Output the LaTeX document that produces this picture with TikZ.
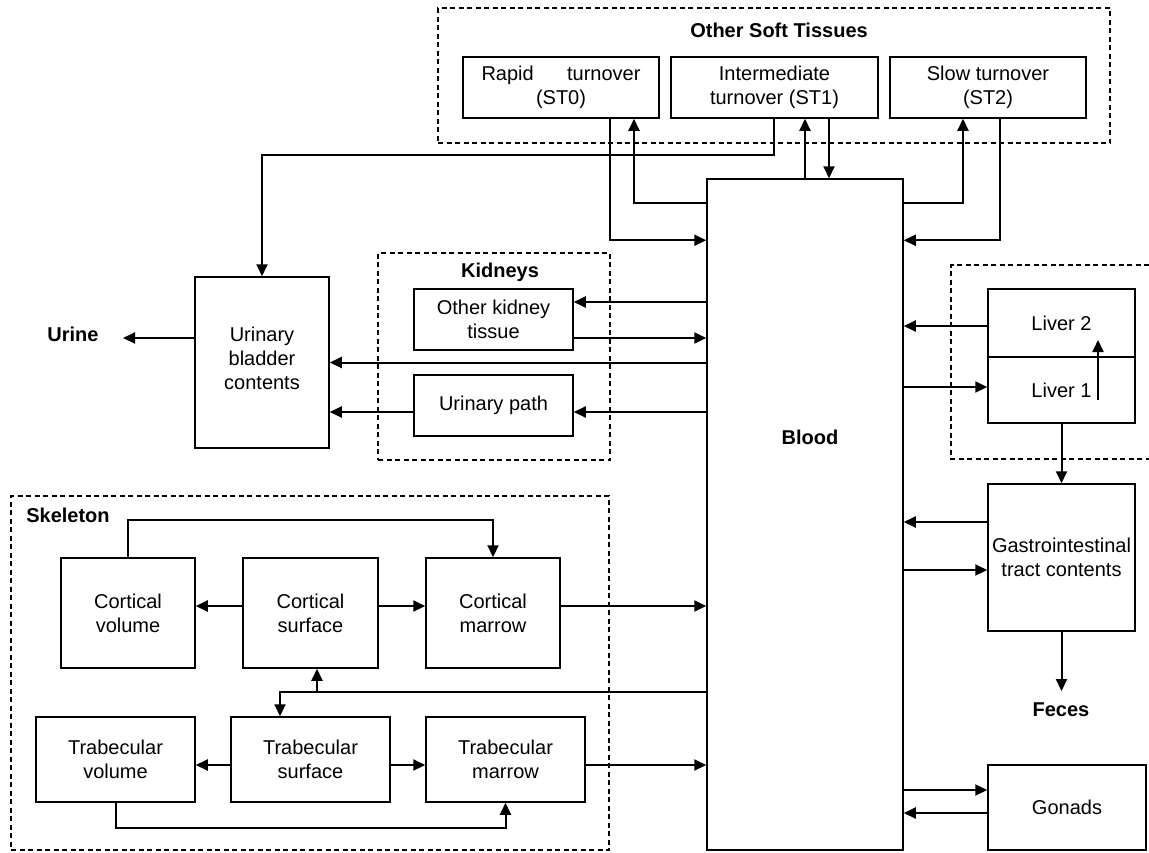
\documentclass[tikz,border=0pt]{standalone}
\usepackage{fontspec}
\setmainfont{Liberation Sans}
\usetikzlibrary{arrows.meta}
\begin{document}
\begin{tikzpicture}[x=1pt,y=-1pt,
  box/.style={draw, line width=1.5pt, inner sep=1pt, align=center, font=\fontsize{20}{24}\selectfont},
  txt/.style={inner sep=0pt, align=center, font=\fontsize{20}{24}\selectfont},
  grp/.style={draw, dash pattern=on 5pt off 3.5pt, line width=1.2pt, inner sep=0pt},
  lbl/.style={font=\fontsize{20}{24}\selectfont\bfseries, inner sep=0pt},
  conn/.style={line width=2pt, -{Triangle[length=12pt,width=11pt]}},
  plain/.style={line width=2pt}]
\fill[white] (0,0) rectangle (1149,852);
\useasboundingbox (0,0) rectangle (1149,852);

% groups
\node[grp, minimum width=672pt, minimum height=135pt] (ost) at (774,75.5) {};
\node[lbl] (osttitle) at (779,30) {Other Soft Tissues};
\node[grp, minimum width=232pt, minimum height=207pt] (kid) at (494,356.5) {};
\node[lbl] (kidtitle) at (500,272) {Kidneys};
\node[grp, minimum width=598pt, minimum height=354pt] (skel) at (310,673) {};
\node[lbl] (skeltitle) at (68,515) {Skeleton};
\draw[dash pattern=on 5pt off 3.5pt, line width=1.2pt] (1149,265) -- (951,265) -- (951,459) -- (1149,459);

% boxes
\node[box, minimum width=196pt, minimum height=61pt] (st0) at (561,87.5) {\makebox[159pt][s]{Rapid turnover}\\(ST0)};
\node[box, minimum width=207pt, minimum height=61pt] (st1) at (774.5,87.5) {Intermediate\\turnover (ST1)};
\node[box, minimum width=196pt, minimum height=61pt] (st2) at (988,87.5) {Slow turnover\\(ST2)};
\node[box, minimum width=196pt, minimum height=671pt] (blood) at (805,514.5) {};
\node[lbl] (bloodtxt) at (810,437) {Blood};
\node[box, minimum width=134pt, minimum height=171pt] (bladder) at (262,362.5) {};
\node[txt] (bladdertxt) at (262,358) {Urinary\\bladder\\contents};
\node[lbl] (urine) at (73,334) {Urine};
\node[box, minimum width=159pt, minimum height=61pt] (okt) at (493.5,319.5) {Other kidney\\tissue};
\node[box, minimum width=159pt, minimum height=61pt] (upath) at (493.5,405.5) {Urinary path};
\node[box, minimum width=147pt, minimum height=68pt] (liver2) at (1061.5,323) {Liver 2};
\node[box, minimum width=147pt, minimum height=66pt] (liver1) at (1061.5,390) {Liver 1};
\node[box, minimum width=147pt, minimum height=147pt] (gi) at (1061.5,557.5) {Gastrointestinal\\tract contents};
\node[lbl] (feces) at (1061,710) {Feces};
\node[box, minimum width=158pt, minimum height=85pt] (gonads) at (1067,807.5) {Gonads};
\node[box, minimum width=134pt, minimum height=110pt] (cv) at (128,613) {Cortical\\volume};
\node[box, minimum width=135pt, minimum height=110pt] (cs) at (310.5,613) {Cortical\\surface};
\node[box, minimum width=134pt, minimum height=110pt] (cm) at (493,613) {Cortical\\marrow};
\node[box, minimum width=159pt, minimum height=85pt] (tv) at (115.5,759.5) {Trabecular\\volume};
\node[box, minimum width=159pt, minimum height=85pt] (ts) at (310.5,759.5) {Trabecular\\surface};
\node[box, minimum width=159pt, minimum height=85pt] (tm) at (505.5,759.5) {Trabecular\\marrow};

% helper coordinates
\coordinate (urineend) at (123,338);
\coordinate (fecesend) at (1061.5,691);
\coordinate (st1down) at ([xshift=54.5pt]st1.south);
\coordinate (oktin) at ([yshift=17.5pt]okt.east);
\coordinate (oktout) at ([yshift=-18.5pt]okt.east);
\coordinate (upin) at ([yshift=-6.5pt]upath.east);
\coordinate (upout) at ([yshift=-6.5pt]upath.west);
\coordinate (blout) at ([yshift=24.5pt]bladder.west);
\coordinate (l2out) at ([yshift=-3pt]liver2.west);
\coordinate (l1in) at ([yshift=3pt]liver1.west);
\coordinate (l1a) at (1098,400);
\coordinate (l2a) at (1098,340);
\coordinate (giout) at ([yshift=35.5pt]gi.west);
\coordinate (giin) at ([yshift=-12.5pt]gi.west);
\coordinate (gonin) at ([yshift=17.5pt]gonads.west);
\coordinate (gonout) at ([yshift=-5.5pt]gonads.west);
\coordinate (cmout) at ([yshift=7pt]cm.east);
\coordinate (csl) at ([yshift=7pt]cs.west);
\coordinate (csr) at ([yshift=7pt]cs.east);
\coordinate (brow) at (0,692);
\coordinate (tsin) at ([xshift=-30.5pt]ts.north);
\coordinate (csin) at ([xshift=6.5pt]cs.south);
\coordinate (tsl) at ([yshift=-5.5pt]ts.west);
\coordinate (tsr) at ([yshift=-5.5pt]ts.east);
\coordinate (tmout) at ([yshift=-5.5pt]tm.east);

% other soft tissues
\draw[conn] ([xshift=49pt]st0.south) |- ([yshift=-62pt]blood.north west);
\draw[conn] ([yshift=-25pt]blood.north west) -| ([xshift=73pt]st0.south);
\draw[conn] ([xshift=-0.5pt]st1.south) -- ++(0,36) -| (bladder.north);
\draw[conn] (blood.north) -- (blood.north |- st1.south);
\draw[conn] (st1down) -- (st1down |- blood.north);
\draw[conn] ([yshift=-25pt]blood.north east) -| ([xshift=-25pt]st2.south);
\draw[conn] ([xshift=12pt]st2.south) |- ([yshift=-62pt]blood.north east);

% kidneys and bladder
\draw[conn] (oktin -| blood.west) -- (oktin);
\draw[conn] (oktout) -- (oktout -| blood.west);
\draw[conn] (bladder.east -| blood.west) -- (bladder.east);
\draw[conn] (upin -| blood.west) -- (upin);
\draw[conn] (upout) -- (upout -| bladder.east);
\draw[conn] (blout) -- (urineend);

% liver, GI, gonads
\draw[conn] (l2out) -- (l2out -| blood.east);
\draw[conn] (l1in -| blood.east) -- (l1in);
\draw[conn] (l1a) -- (l2a);
\draw[conn] (liver1.south) -- (gi.north);
\draw[conn] (giout) -- (giout -| blood.east);
\draw[conn] (giin -| blood.east) -- (giin);
\draw[conn] (gi.south) -- (fecesend);
\draw[conn] (gonin -| blood.east) -- (gonin);
\draw[conn] (gonout) -- (gonout -| blood.east);

% skeleton
\draw[conn] (csl) -- (csl -| cv.east);
\draw[conn] (csr) -- (csr -| cm.west);
\draw[conn] (cmout) -- (cmout -| blood.west);
\draw[conn] (cv.north) -- ++(0,-37) -| (cm.north);
\draw[conn] (blood.west |- brow) -| (tsin);
\draw[conn] (csin |- brow) -- (csin);
\draw[conn] (tsl) -- (tsl -| tv.east);
\draw[conn] (tsr) -- (tsr -| tm.west);
\draw[conn] (tmout) -- (tmout -| blood.west);
\draw[conn] (tv.south) -- ++(0,25) -| (tm.south);
\end{tikzpicture}
\end{document}
